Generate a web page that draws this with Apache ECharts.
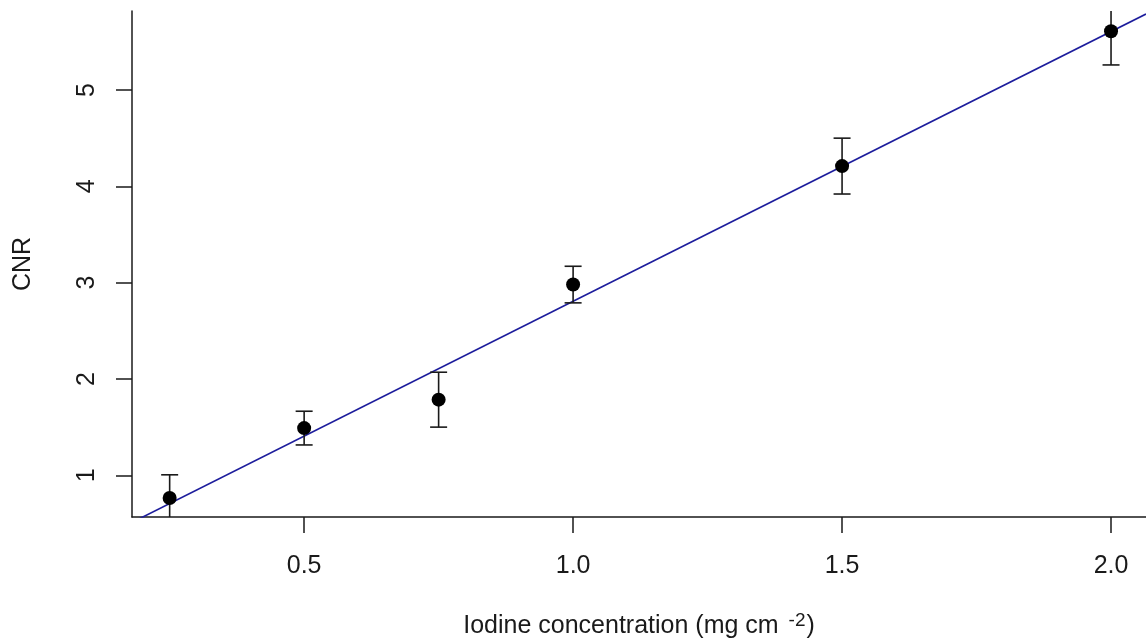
<!DOCTYPE html>
<html>
<head>
<meta charset="utf-8">
<script src="https://cdn.jsdelivr.net/npm/echarts@6/dist/echarts.min.js"></script>
<style>
  html, body { margin: 0; padding: 0; background: #ffffff; }
  #chart { width: 1146px; height: 638px; }
</style>
</head>
<body>
<div id="chart"></div>
<script>
// Iodine concentration (mg cm^-2) and measured CNR with error half-widths
var concentration = [0.25, 0.5, 0.75, 1.0, 1.5, 2.0];
var cnr = [0.765, 1.49, 1.785, 2.98, 4.21, 5.61];
var cnrError = [0.24, 0.175, 0.285, 0.19, 0.29, 0.35];

var xTicks = [0.5, 1.0, 1.5, 2.0];
var yTicks = [1, 2, 3, 4, 5];

// Axis limits: data range padded by 4% on each side
var xMin = 0.18, xMax = 2.065;
var yMin = 0.567, yMax = 5.82;

// Ordinary least-squares fit of CNR against concentration
function fitLine(xs, ys) {
  var n = xs.length, mx = 0, my = 0;
  for (var i = 0; i < n; i++) { mx += xs[i]; my += ys[i]; }
  mx /= n; my /= n;
  var sxx = 0, sxy = 0;
  for (var j = 0; j < n; j++) {
    sxx += (xs[j] - mx) * (xs[j] - mx);
    sxy += (xs[j] - mx) * (ys[j] - my);
  }
  var slope = sxy / sxx;
  return { slope: slope, intercept: my - slope * mx };
}
var fit = fitLine(concentration, cnr);
var fitData = [xMin, xMax].map(function (x) { return [x, fit.intercept + fit.slope * x]; });

var points = concentration.map(function (x, i) { return [x, cnr[i]]; });
var bars = concentration.map(function (x, i) { return [x, cnr[i] - cnrError[i], cnr[i] + cnrError[i]]; });

var FONT = 'Liberation Sans, Arial, sans-serif';
var INK = '#1a1a1a';

var chart = echarts.init(document.getElementById('chart'), null, { renderer: 'canvas' });
chart.setOption({
  backgroundColor: '#ffffff',
  animation: false,
  grid: { left: 132, right: 0, top: 11, bottom: 121, outerBoundsMode: 'none', containLabel: false },
  xAxis: {
    type: 'value',
    min: xMin,
    max: xMax,
    name: '{a|Iodine concentration (mg cm }{s|-2}{a|)}',
    nameLocation: 'middle',
    nameGap: 94,
    nameTextStyle: {
      rich: {
        a: { fontFamily: FONT, fontSize: 25, color: INK },
        s: { fontFamily: FONT, fontSize: 19, color: INK, verticalAlign: 'top', padding: [0, 1, 12, 3] }
      }
    },
    splitLine: { show: false },
    axisLine: { show: true, onZero: false, lineStyle: { color: INK, width: 1.5 } },
    axisTick: { show: true, length: 16, customValues: xTicks, lineStyle: { color: INK, width: 1.5 } },
    axisLabel: {
      customValues: xTicks,
      margin: 37,
      fontFamily: FONT, fontSize: 25, color: INK,
      formatter: function (v) { return v.toFixed(1); }
    }
  },
  yAxis: {
    type: 'value',
    min: yMin,
    max: yMax,
    name: 'CNR',
    nameLocation: 'middle',
    nameRotate: 90,
    nameGap: 96,
    nameTextStyle: { fontFamily: FONT, fontSize: 25, color: INK },
    splitLine: { show: false },
    axisLine: { show: true, onZero: false, lineStyle: { color: INK, width: 1.5 } },
    axisTick: { show: true, length: 16, customValues: yTicks, lineStyle: { color: INK, width: 1.5 } },
    axisLabel: {
      customValues: yTicks,
      rotate: 90,
      margin: 32,
      fontFamily: FONT, fontSize: 25, color: INK
    }
  },
  series: [
    {
      type: 'line',
      data: fitData,
      showSymbol: false,
      clip: true,
      lineStyle: { color: '#1c1c9c', width: 1.6 },
      z: 2
    },
    {
      type: 'custom',
      clip: true,
      data: bars,
      renderItem: function (params, api) {
        var x = api.value(0);
        var lo = api.coord([x, api.value(1)]);
        var hi = api.coord([x, api.value(2)]);
        var cap = 8.5;
        var style = { stroke: INK, lineWidth: 1.6 };
        return {
          type: 'group',
          children: [
            { type: 'line', shape: { x1: lo[0], y1: lo[1], x2: hi[0], y2: hi[1] }, style: style },
            { type: 'line', shape: { x1: lo[0] - cap, y1: lo[1], x2: lo[0] + cap, y2: lo[1] }, style: style },
            { type: 'line', shape: { x1: hi[0] - cap, y1: hi[1], x2: hi[0] + cap, y2: hi[1] }, style: style }
          ]
        };
      },
      z: 3
    },
    {
      type: 'scatter',
      data: points,
      symbol: 'circle',
      symbolSize: 14,
      itemStyle: { color: '#000000', opacity: 1 },
      z: 4
    }
  ]
});
</script>
</body>
</html>
